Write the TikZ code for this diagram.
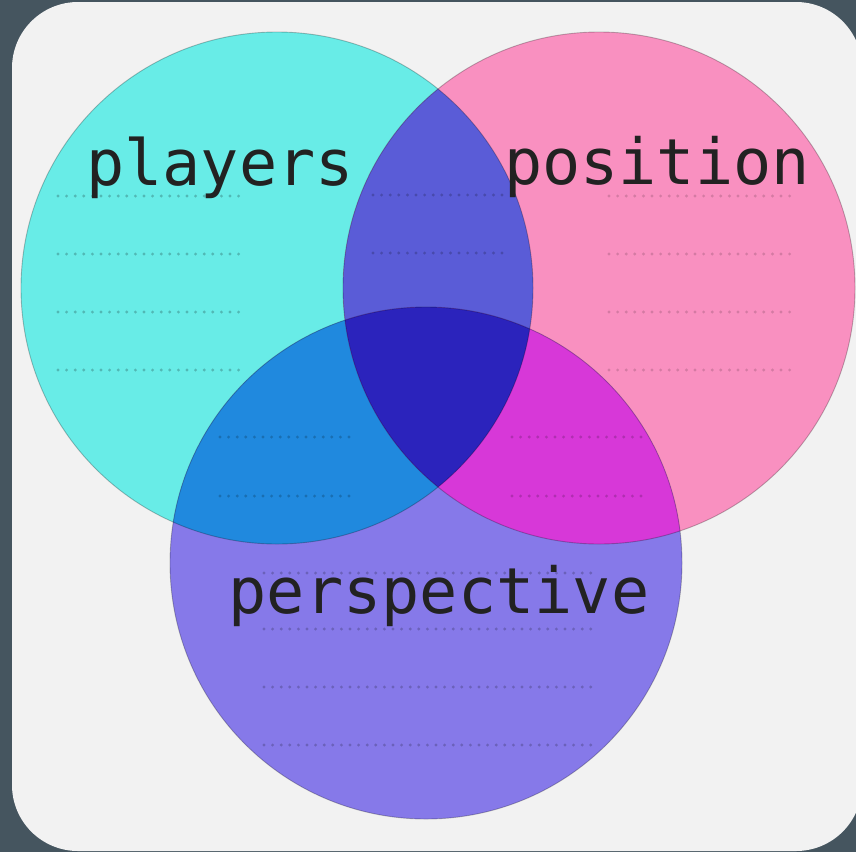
\documentclass[tikz,border=0pt]{standalone}
\usepackage{fontspec}
\setmonofont{DejaVu Sans Mono}

\definecolor{slate}{HTML}{45555F}
\definecolor{panel}{HTML}{F2F2F2}
\definecolor{cyanc}{HTML}{68ECE7}
\definecolor{pinkc}{HTML}{F990C0}
\definecolor{purplec}{HTML}{8679E9}
\definecolor{plpoc}{HTML}{5A5CD7}
\definecolor{plpec}{HTML}{2089DE}
\definecolor{popec}{HTML}{D738D8}
\definecolor{allc}{HTML}{2B23BC}
\definecolor{inkc}{HTML}{222222}

\tikzset{
  dotline/.style={line width=3.2pt, dash pattern=on 0pt off 8.6pt, line cap=round},
  rim/.style={draw=black, draw opacity=0.25, line width=0.9pt},
  setlabel/.style={anchor=base, text=inkc, font=\ttfamily\fontsize{63.5}{63.5}\selectfont}
}

\begin{document}
\begin{tikzpicture}[x=1pt, y=-1pt]
    \useasboundingbox (0,0) rectangle (856,852);
    \fill[slate] (0,0) rectangle (856,852);
    \fill[panel, rounded corners=66pt] (12,2) rectangle (862,851);

    \coordinate (cPl) at (277,288);
    \coordinate (cPo) at (599,288);
    \coordinate (cPe) at (426,563);
    \def\R{256pt}

    % the three sets
    \fill[cyanc]   (cPl) circle (\R);
    \fill[pinkc]   (cPo) circle (\R);
    \fill[purplec] (cPe) circle (\R);

    % overlaps
    \begin{scope}
        \clip (cPl) circle (\R);
        \fill[plpoc] (cPo) circle (\R);
        \fill[plpec] (cPe) circle (\R);
    \end{scope}
    \begin{scope}
        \clip (cPo) circle (\R);
        \fill[popec] (cPe) circle (\R);
    \end{scope}
    \begin{scope}
        \clip (cPl) circle (\R);
        \clip (cPo) circle (\R);
        \fill[allc] (cPe) circle (\R);
    \end{scope}

    \foreach \c in {cPl,cPo,cPe}
        \draw[rim] (\c) circle (\R);

    % placeholder rows
    \foreach \y in {196,254,312,370} {
        \draw[dotline, cyanc!78!black] (58,\y) -- (242,\y);
        \draw[dotline, pinkc!85!black] (609,\y) -- (793,\y);
    }
    \foreach \y in {195,253}
        \draw[dotline, plpoc!80!black] (373,\y) -- (506,\y);
    \foreach \y in {437,496} {
        \draw[dotline, plpec!80!black] (220,\y) -- (353,\y);
        \draw[dotline, popec!82!black] (512,\y) -- (645,\y);
    }
    \foreach \y in {573,629,687,745}
        \draw[dotline, purplec!80!black] (264,\y) -- (598,\y);

    \node[setlabel] (players)     at (220,185) {players};
    \node[setlabel] (position)    at (657,184) {position};
    \node[setlabel] (perspective) at (439,613) {perspective};
\end{tikzpicture}
\end{document}
